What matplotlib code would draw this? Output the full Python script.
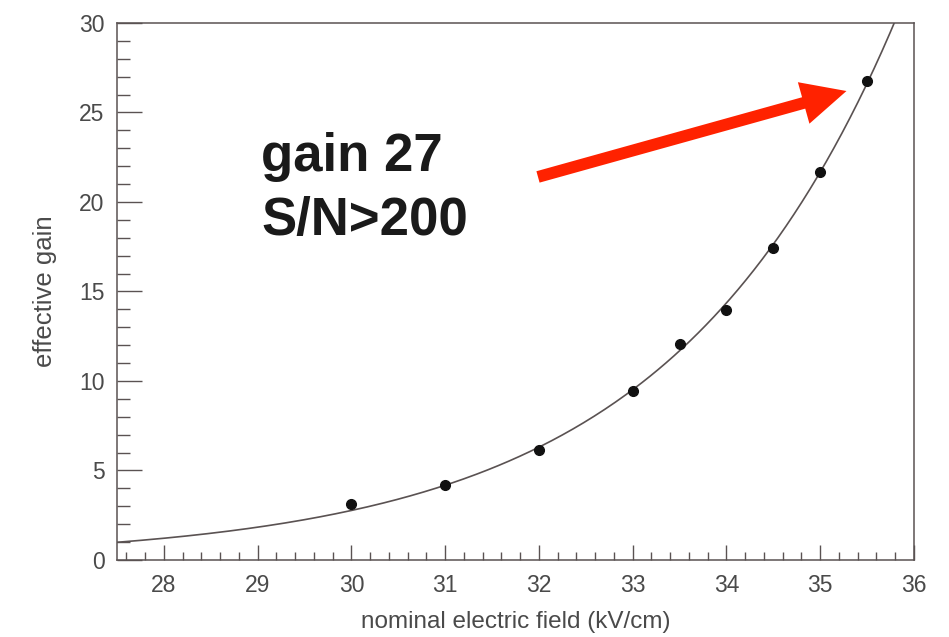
import numpy as np
import matplotlib
matplotlib.use("Agg")
import matplotlib.pyplot as plt
from matplotlib.ticker import MultipleLocator

# datos
campo = [30.0, 31.0, 32.0, 33.0, 33.5, 34.0, 34.5, 35.0, 35.5]
ganancia = [3.1, 4.18, 6.17, 9.44, 12.08, 13.98, 17.44, 21.7, 26.77]

texto_nota = "gain 27\nS/N>200"
flecha_desde = (31.99, 21.4)
flecha_hasta = (35.28, 26.2)

plt.rcParams["font.family"] = ["Liberation Sans", "DejaVu Sans"]

# ajuste exponencial (log-lineal, ponderado)
x = np.array(campo)
y = np.array(ganancia)
b, a = np.polyfit(x, np.log(y), 1, w=y)
xf = np.linspace(27.5, 36.0, 300)
yf = np.exp(a + b * xf)

fig = plt.figure(figsize=(9.49, 6.37), dpi=100)
ax = fig.add_axes([0.1233, 0.1209, 0.8398, 0.843])

gris = "#5a5252"
ax.plot(xf, yf, color=gris, lw=1.2, zorder=2)
ax.plot(x, y, "o", color="#111111", ms=7, zorder=3)

ax.set_xlim(27.5, 36.0)
ax.set_ylim(0, 30)
ax.xaxis.set_major_locator(MultipleLocator(1))
ax.xaxis.set_minor_locator(MultipleLocator(0.2))
ax.yaxis.set_major_locator(MultipleLocator(5))
ax.yaxis.set_minor_locator(MultipleLocator(1))

ax.tick_params(axis="both", which="both", direction="in", color=gris,
               width=1.0, labelcolor="#4a4a4a", labelsize=16.5,
               top=False, right=False)
ax.tick_params(axis="y", which="major", length=18, pad=9)
ax.tick_params(axis="y", which="minor", length=9.4)
ax.tick_params(axis="x", which="major", length=10.8, pad=10)
ax.tick_params(axis="x", which="minor", length=6)
for s in ax.spines.values():
    s.set_color(gris)
    s.set_linewidth(1.1)

ax.set_xlabel("nominal electric field (kV/cm)", fontsize=17.5, color="#4a4a4a",
              labelpad=10.5)
ax.set_ylabel("effective gain", fontsize=18.5, color="#4a4a4a", labelpad=16)

# nota y flecha
ax.text(0.181, 0.797, texto_nota, transform=ax.transAxes, fontsize=38,
        fontweight="bold", color="#1a1a1a", va="top", ha="left",
        linespacing=1.37)
ax.annotate("", xy=flecha_hasta, xytext=flecha_desde,
            arrowprops=dict(arrowstyle="simple,head_length=3.2,head_width=3.1,tail_width=0.85",
                            mutation_scale=10, color="#ff2200", lw=0,
                            shrinkA=0, shrinkB=0))

fig.savefig("out.png", dpi=100, facecolor="white")
